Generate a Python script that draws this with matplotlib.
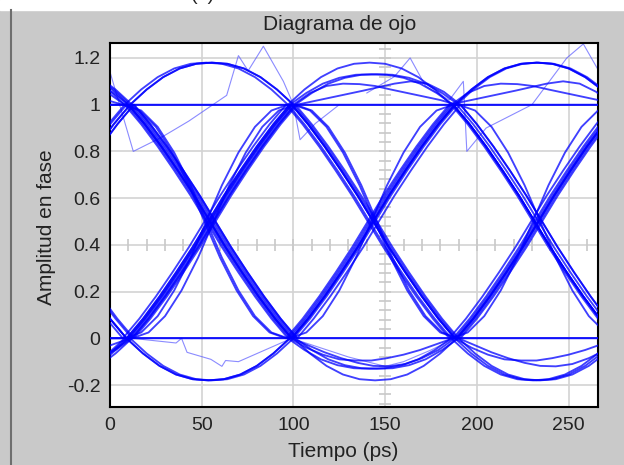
import numpy as np
import matplotlib
matplotlib.use('Agg')
import matplotlib.pyplot as plt
from matplotlib.patches import Rectangle
from matplotlib.lines import Line2D

plt.rcParams['font.family'] = ['Liberation Sans', 'DejaVu Sans']

# bit period and first eye crossing (ps)
bit_ps = 89
first_cross = 10

# sample offsets inside one bit (ps)
u_ps = [0, 9, 18, 27, 36, 44.5, 53, 62, 71, 80, 89]

# transition shapes read from the eye (amplitude at each offset)
fall_a = [1.0, 0.916, 0.821, 0.718, 0.61, 0.5, 0.39, 0.282, 0.179, 0.084, 0.0]
fall_b = [1.0, 0.975, 0.905, 0.795, 0.655, 0.5, 0.345, 0.205, 0.095, 0.025, 0.0]
rise_a = [0.0, 0.084, 0.179, 0.282, 0.39, 0.5, 0.61, 0.718, 0.821, 0.916, 1.0]
rise_b = [0.0, 0.025, 0.095, 0.205, 0.345, 0.5, 0.655, 0.795, 0.905, 0.975, 1.0]
high_arc = [1.0, 1.065, 1.118, 1.155, 1.175, 1.18, 1.175, 1.155, 1.118, 1.065, 1.0]
high_arc2 = [1.0, 1.05, 1.09, 1.115, 1.128, 1.13, 1.128, 1.115, 1.09, 1.05, 1.0]
low_arc = [0.0, -0.065, -0.118, -0.155, -0.175, -0.18, -0.175, -0.155, -0.118, -0.065, 0.0]
low_arc2 = [0.0, -0.05, -0.09, -0.115, -0.128, -0.13, -0.128, -0.115, -0.09, -0.05, 0.0]
high_flat = [1.0, 1.0, 1.0, 1.0, 1.0, 1.0, 1.0, 1.0, 1.0, 1.0, 1.0]
low_flat = [0.0, 0.0, 0.0, 0.0, 0.0, 0.0, 0.0, 0.0, 0.0, 0.0, 0.0]
high_late = [1.0, 1.015, 1.03, 1.045, 1.06, 1.075, 1.09, 1.1, 1.09, 1.055, 1.0]
high_early = [1.0, 1.05, 1.08, 1.09, 1.088, 1.08, 1.065, 1.05, 1.035, 1.02, 1.0]
low_early = [0.0, -0.04, -0.07, -0.09, -0.095, -0.095, -0.085, -0.07, -0.05, -0.025, 0.0]
low_late = [0.0, -0.03, -0.06, -0.085, -0.105, -0.118, -0.12, -0.11, -0.085, -0.05, 0.0]

shapes = {'F': fall_a, 'f': fall_b, 'R': rise_a, 'r': rise_b,
          'H': high_arc, 'K': high_arc2, 'L': low_arc, 'M': low_arc2,
          'h': high_flat, 'l': low_flat, 'A': high_late, 'B': high_early,
          'C': low_early, 'D': low_late}

# each trace: 4 consecutive bits in the window, plus its timing jitter (ps)
traces = ["HFRH", "RFLR", "FRKF", "LRfL", "hhhh", "llll", "KHFL", "MLRH",
          "FRAF", "RFCR", "hFRh", "lRFl", "BfRA", "DRFD", "RHfR", "FLrF",
          "HFMR", "LrHF", "AFDR", "CRBF", "FRhF", "RFlR", "HFRB", "LRFC",
          "hhFL", "llRH", "FrKf", "RfMr", "HHFR", "LLRF", "FRFR", "RFRF"]
jitter = [0, 1, -1, 2, 0, 0, -2, 1, 3, -1, 0, 0, -3, 2,
          1, -1, 2, -2, 0, 1, -1, 3, -2, 0, 0, 0, 2, -2, 1, -1, -3, 3]

# noisy thin traces
noisy1_t = [0, 12.7, 28, 43, 63.6, 70, 75.3, 83.6, 94.5, 100, 103.6, 112, 125]
noisy1_v = [1.14, 0.80, 0.86, 0.93, 1.04, 1.21, 1.145, 1.25, 1.10, 1.0, 0.85, 0.92, 1.0]
noisy2_t = [140, 155, 163.6, 172, 185, 192.6, 194.5, 205, 230, 249, 258, 266]
noisy2_v = [1.05, 1.12, 1.20, 1.08, 1.02, 1.10, 0.80, 0.90, 1.0, 1.20, 1.26, 1.15]
noisy3_t = [12, 36, 39, 42, 55, 61, 63, 70, 99, 130, 150, 160, 175, 188]
noisy3_v = [0.0, -0.02, 0.0, -0.06, -0.09, -0.12, -0.095, -0.1, 0.0, -0.08, -0.12, -0.1, -0.05, 0.0]

x_ticks = [0, 50, 100, 150, 200, 250]
y_ticks = [-0.2, 0, 0.2, 0.4, 0.6, 0.8, 1.0, 1.2]

fig = plt.figure(figsize=(6.24, 4.65), dpi=100, facecolor='#c9c9c9')
fig.patches.append(Rectangle((0, 1 - 10 / 465), 1, 10 / 465, transform=fig.transFigure,
                             color='white', zorder=0))
fig.lines.append(Line2D([10.5 / 624, 10.5 / 624], [0, 1 - 10 / 465], transform=fig.transFigure,
                        color='#6e6e6e', lw=1.5))
fig.text(0.325, 1.0, '(a)', ha='center', va='baseline', fontsize=14, color='#222222')

ax = fig.add_axes([110 / 624, 1 - 407 / 465, 488 / 624, 364 / 465])
ax.set_facecolor('white')

u = np.array(u_ps)
for code, jit in zip(traces, jitter):
    tt, vv = [], []
    for i, c in enumerate(code):
        start = first_cross + (i - 1) * bit_ps + jit
        tt.extend(start + u)
        vv.extend(shapes[c])
    ax.plot(tt, vv, color='#0000ff', lw=1.35, alpha=0.75, zorder=3)

for nt, nv in [(noisy1_t, noisy1_v), (noisy2_t, noisy2_v), (noisy3_t, noisy3_v)]:
    ax.plot(nt, nv, color='#5a5aff', lw=0.8, alpha=0.7, zorder=2)

ax.set_xlim(0, 266)
ax.set_ylim(-0.294, 1.264)
ax.set_xticks(x_ticks)
ax.set_yticks(y_ticks)
ax.set_yticklabels(['%g' % v for v in y_ticks])
ax.grid(True, color='#d3d3d3', lw=1.2, zorder=0)
ax.set_axisbelow(True)
ax.tick_params(length=0, pad=7, labelsize=14, colors='#222222')

# centre cross with small division marks
ax.plot(np.arange(0, 266, 10), [0.4] * 27, ls='none', marker='|', ms=8,
        color='#c8c8c8', mew=1.2, zorder=1)
ax.plot([150] * 39, np.arange(-0.28, 1.26, 0.04), ls='none', marker='_', ms=8,
        color='#c8c8c8', mew=1.2, zorder=1)

for s in ax.spines.values():
    s.set_color('black')
    s.set_linewidth(1.5)

fig.text(340 / 624, 1 - 25 / 465, 'Diagrama de ojo', ha='center', va='center',
         fontsize=15, color='#222222')
fig.text(343 / 624, 1 - 451 / 465, 'Tiempo (ps)', ha='center', va='center',
         fontsize=15, color='#222222')
fig.text(47 / 624, 1 - 227 / 465, 'Amplitud en fase', ha='center', va='center',
         rotation=90, fontsize=15, color='#222222')

fig.savefig('out.png', dpi=100, facecolor=fig.get_facecolor())
